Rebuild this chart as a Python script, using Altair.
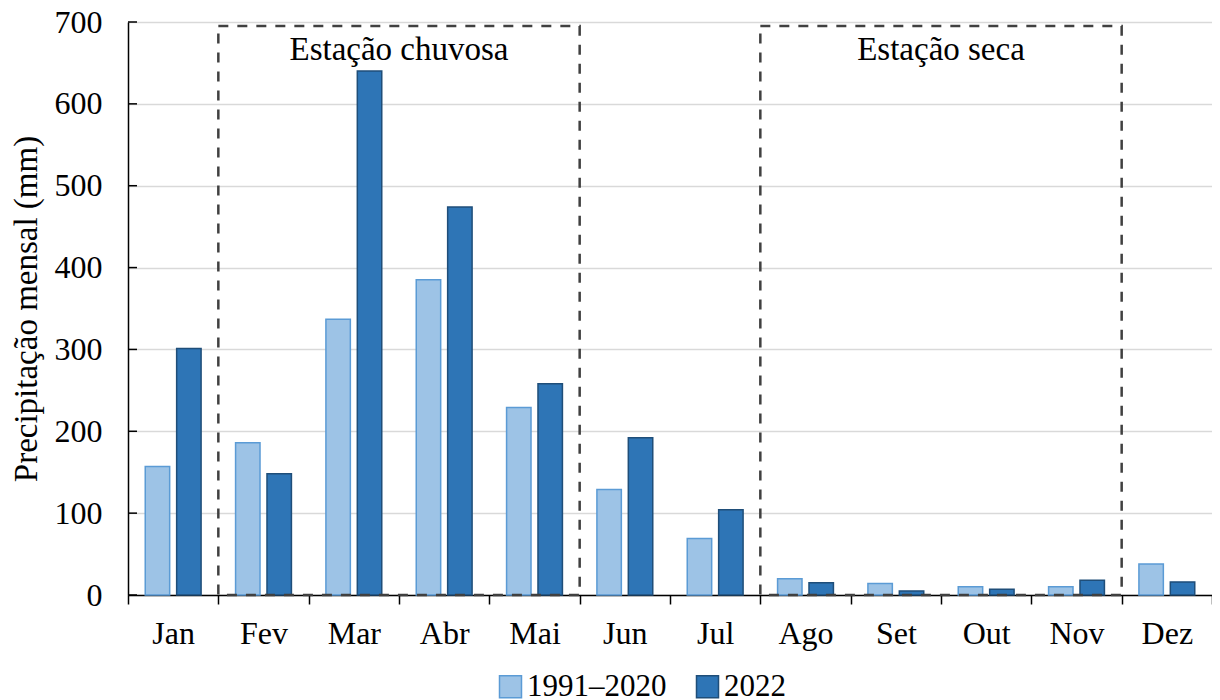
import altair as alt
import pandas as pd

months = ["Jan", "Fev", "Mar", "Abr", "Mai", "Jun", "Jul", "Ago", "Set", "Out", "Nov", "Dez"]
normal_1991_2020 = [157, 186, 337, 385, 229, 129, 69, 20, 14, 10, 10, 38]
rain_2022 = [301, 148, 640, 474, 258, 192, 104, 15, 5, 7, 18, 16]
series = ["1991–2020", "2022"]

box_start = ["Fev", "Ago"]
box_end = ["Mai", "Nov"]
box_center = ["Abr", "Out"]
box_labels = ["Estação chuvosa", "Estação seca"]
box_top = [695, 695]
label_level = [666, 666]

y_ticks = [0, 100, 200, 300, 400, 500, 600, 700]
y_title = "Precipitação mensal (mm)"

FONT = "Liberation Serif"

rows = []
for m, a, b in zip(months, normal_1991_2020, rain_2022):
    rows.append({"mes": m, "serie": series[0], "valor": a})
    rows.append({"mes": m, "serie": series[1], "valor": b})
df = pd.DataFrame(rows)

boxes = pd.DataFrame({
    "inicio": box_start, "fim": box_end, "centro": box_center,
    "rotulo": box_labels, "topo": box_top, "base": [0, 0], "nivel": label_level,
})
ticks_df = pd.DataFrame({"v": y_ticks})

xscale = alt.Scale(domain=months, paddingInner=0, paddingOuter=0)
yscale = alt.Scale(domain=[0, 700])

legend = alt.Legend(
    title=None, orient="none", legendX=367, legendY=649, direction="horizontal",
    symbolType="square", symbolSize=484, symbolStrokeWidth=1.5,
    labelFont=FONT, labelFontSize=31, labelColor="black",
    columnPadding=25, labelOffset=1,
)

bars = alt.Chart(df).mark_bar(strokeWidth=1.5).encode(
    x=alt.X("mes:N", sort=months, scale=xscale,
            axis=alt.Axis(title=None, labelAngle=0, tickBand="extent", tickSize=9,
                          tickWidth=1.5, tickColor="black", labelPadding=14,
                          domainColor="black", domainWidth=1.5, grid=False)),
    xOffset=alt.XOffset("serie:N", sort=series,
                        scale=alt.Scale(domain=series, paddingInner=0.222, paddingOuter=0.549)),
    y=alt.Y("valor:Q", scale=yscale,
            axis=alt.Axis(values=y_ticks, title=y_title, ticks=False,
                          grid=True, gridColor="#d9d9d9", gridWidth=1.5,
                          domainColor="black", domainWidth=1.5, labelPadding=26,
                          titlePadding=11)),
    fill=alt.Fill("serie:N", sort=series,
                  scale=alt.Scale(domain=series, range=["#9dc3e6", "#2e75b6"]), legend=legend),
    stroke=alt.Stroke("serie:N", sort=series,
                      scale=alt.Scale(domain=series, range=["#5b9bd5", "#1f4e79"]), legend=legend),
)

rects = alt.Chart(boxes).mark_rect(
    fillOpacity=0, stroke="#404040", strokeWidth=2.5, strokeDash=[10, 9]
).encode(
    x=alt.X("inicio:N", bandPosition=0, scale=xscale, title=None),
    x2=alt.X2("fim:N", bandPosition=1),
    y=alt.Y("base:Q", scale=yscale, title=y_title),
    y2="topo:Q",
)

labels = alt.Chart(boxes).mark_text(
    font=FONT, fontSize=33, color="black", baseline="middle", align="center"
).encode(
    x=alt.X("centro:N", bandPosition=0, scale=xscale, title=None),
    y=alt.Y("nivel:Q", scale=yscale, title=y_title),
    text="rotulo:N",
)

tick_stubs = alt.Chart(ticks_df).mark_rule(color="black", strokeWidth=1.5).encode(
    y=alt.Y("v:Q", scale=yscale, title=y_title),
    x=alt.value(0),
    x2=alt.value(9),
)

chart = alt.layer(bars, rects, tick_stubs, labels).properties(
    width=1084, height=573,
    autosize=alt.AutoSizeParams(type="none"),
    padding={"left": 120, "top": 14, "right": 0, "bottom": 105},
).configure_view(stroke=None).configure_axis(
    labelFont=FONT, titleFont=FONT, labelFontSize=32, titleFontSize=33,
    labelColor="black", titleColor="black", titleFontWeight="normal",
).configure_legend(labelFont=FONT)

chart.save("out.html", embed_options={"renderer": "svg", "actions": False})
